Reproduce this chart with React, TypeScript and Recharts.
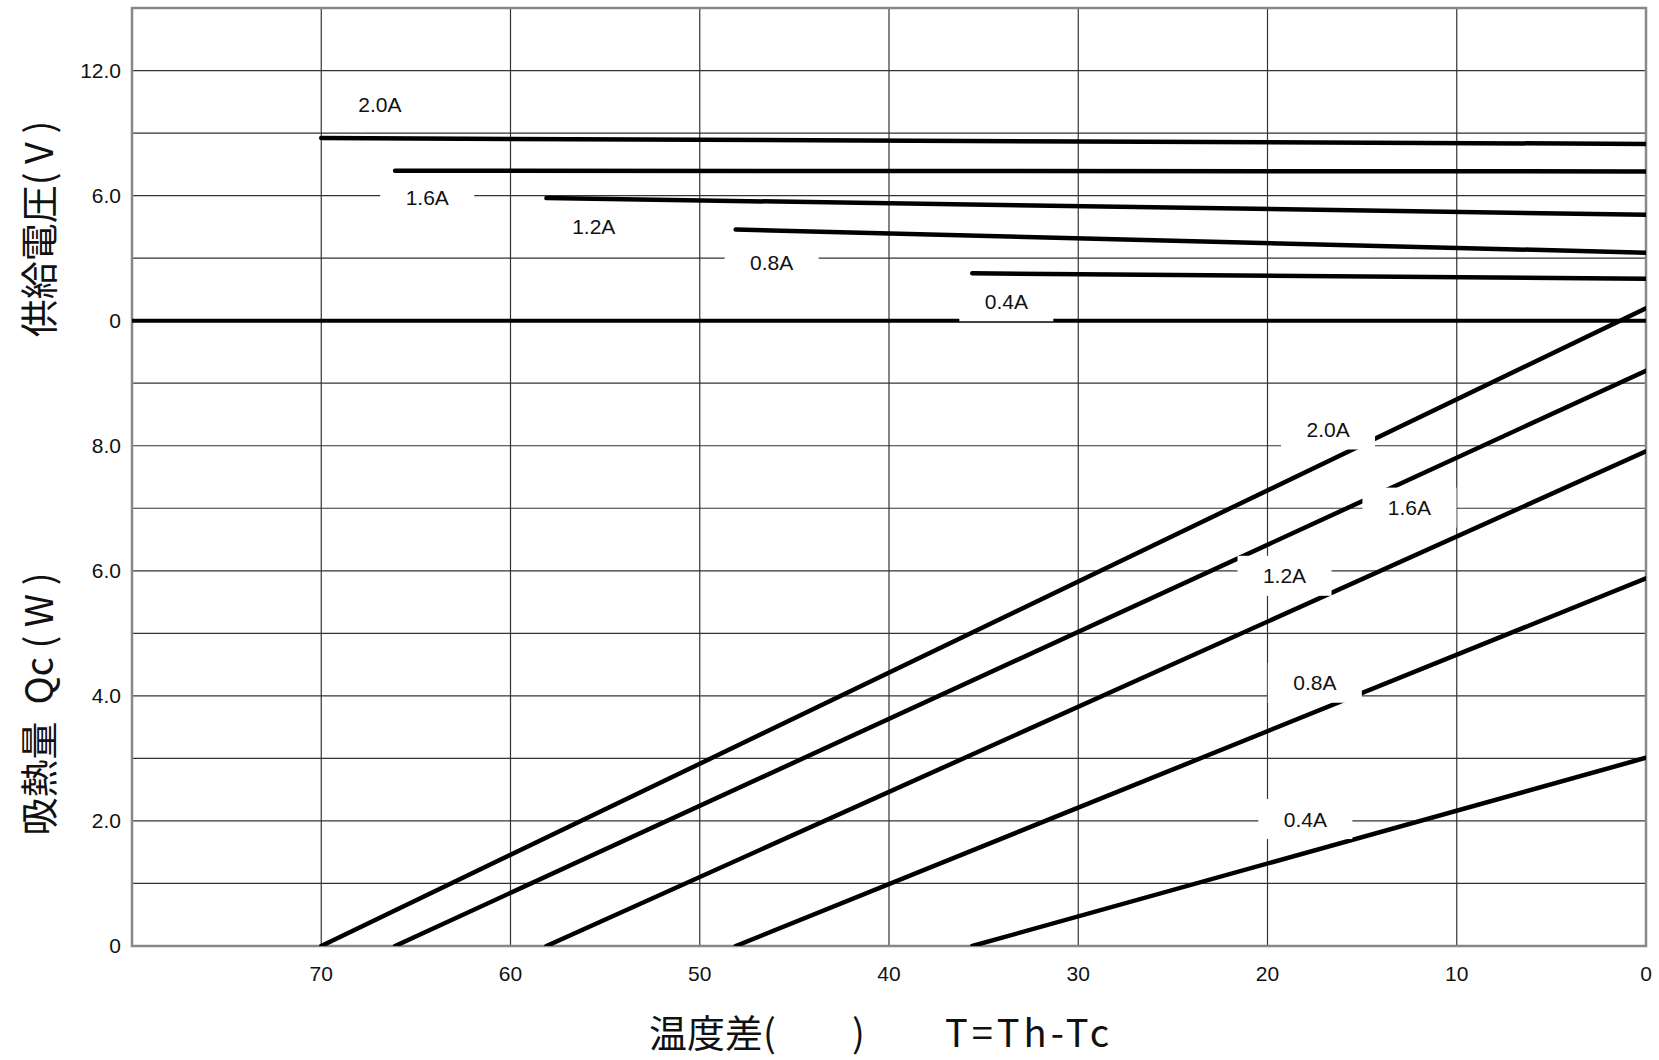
import React from 'react';
import {
  LineChart,
  Line,
  XAxis,
  YAxis,
  CartesianGrid,
  ReferenceLine,
  ReferenceDot,
  ReferenceArea,
} from 'recharts';

// currents, in the order the curves are stacked
const currents = ['2.0A', '1.6A', '1.2A', '0.8A', '0.4A'];
// ΔT where each curve begins (Qc = 0 there)
const startDT = [70, 66.1, 58.1, 48.1, 35.6];
// supply voltage (V) at the start and at ΔT = 0
const voltStart = [8.76, 7.19, 5.88, 4.37, 2.27];
const voltEnd = [8.48, 7.16, 5.08, 3.26, 2.01];
// heat absorbed Qc (W) at ΔT = 0
const heatEnd = [10.2, 9.2, 7.91, 5.88, 3.01];

// where the current labels sit: [ΔT, value]
const voltLabelAt = [
  [66.9, 10.39],
  [64.4, 5.93],
  [55.6, 4.53],
  [46.2, 2.8],
  [33.8, 0.93],
];
const heatLabelAt = [
  [16.8, 8.26],
  [12.5, 7.01],
  [19.1, 5.92],
  [17.5, 4.21],
  [18.0, 2.03],
];

const xTicks = [80, 70, 60, 50, 40, 30, 20, 10, 0];
const xTickLabels = ['', '70', '60', '50', '40', '30', '20', '10', '0'];
// shared vertical units: lower panel W*3 (0-30), upper panel 30+V (30-45)
const yTicks = [0, 3, 6, 9, 12, 15, 18, 21, 24, 27, 30, 33, 36, 39, 42, 45];
const yTickLabels = ['0', '', '2.0', '', '4.0', '', '6.0', '', '8.0', '', '0', '', '6.0', '', '12.0', ''];

const V_OFFSET = 30;
const W_SCALE = 3;

const voltSeries = currents.map((c, i) => ({
  name: c + ' V',
  data: [
    { dt: startDT[i], y: V_OFFSET + voltStart[i] },
    { dt: 0, y: V_OFFSET + voltEnd[i] },
  ],
}));
const heatSeries = currents.map((c, i) => ({
  name: c + ' Qc',
  data: [
    { dt: startDT[i], y: 0 },
    { dt: 0, y: W_SCALE * heatEnd[i] },
  ],
}));

const labelFont = '"Liberation Sans", Arial, sans-serif';
const cjkFont = '"Noto Sans CJK JP", sans-serif';

const LabelBox = (props: any) => {
  const { cx, cy, text } = props;
  if (cx == null || cy == null) return null;
  return (
    <g>
      <rect x={cx - 47} y={cy - 20} width={94} height={40} fill="#fff" />
      <text
        x={cx}
        y={cy}
        textAnchor="middle"
        dominantBaseline="central"
        fontSize={21}
        fontFamily={labelFont}
        fill="#111"
      >
        {text}
      </text>
    </g>
  );
};

const titleStyle: React.CSSProperties = {
  position: 'absolute',
  fontSize: 38,
  lineHeight: 1,
  fontFamily: cjkFont,
  color: '#111',
  whiteSpace: 'pre',
};

export default function App() {
  return (
    <div style={{ position: 'relative', width: 1659, height: 1060, background: '#fff' }}>
      <style>{`body{margin:0;}`}</style>
      <LineChart
        width={1659}
        height={1060}
        margin={{ top: 8, right: 13, bottom: 84, left: 72 }}
      >
        <CartesianGrid stroke="#333" strokeWidth={1.2} />
        <XAxis
          type="number"
          dataKey="dt"
          domain={[0, 80]}
          reversed
          ticks={xTicks}
          tickFormatter={(v: number) => xTickLabels[xTicks.indexOf(v)]}
          axisLine={false}
          tickLine={false}
          tickSize={0}
          tickMargin={20}
          height={30}
          allowDataOverflow
          tick={{ fontSize: 21, fill: '#111', fontFamily: labelFont }}
        />
        <YAxis
          type="number"
          dataKey="y"
          domain={[0, 45]}
          ticks={yTicks}
          tickFormatter={(v: number) => yTickLabels[yTicks.indexOf(v)]}
          width={60}
          axisLine={false}
          tickLine={false}
          tickSize={0}
          tickMargin={11}
          allowDataOverflow
          interval={0}
          tick={{ fontSize: 21, fill: '#111', fontFamily: labelFont }}
        />
        <ReferenceLine y={V_OFFSET} stroke="#000" strokeWidth={4} />
        <ReferenceArea
          x1={80}
          x2={0}
          y1={0}
          y2={45}
          fill="none"
          fillOpacity={0}
          stroke="#888"
          strokeWidth={2.5}
        />
        {voltSeries.map((s) => (
          <Line
            key={s.name}
            name={s.name}
            data={s.data}
            dataKey="y"
            type="linear"
            stroke="#000"
            strokeWidth={4.5}
            strokeLinecap="round"
            dot={false}
            activeDot={false}
            isAnimationActive={false}
          />
        ))}
        {heatSeries.map((s) => (
          <Line
            key={s.name}
            name={s.name}
            data={s.data}
            dataKey="y"
            type="linear"
            stroke="#000"
            strokeWidth={4.5}
            strokeLinecap="round"
            dot={false}
            activeDot={false}
            isAnimationActive={false}
          />
        ))}
        {voltLabelAt.map(([dt, v], i) => (
          <ReferenceDot
            key={'vl' + i}
            x={dt}
            y={V_OFFSET + v}
            r={1}
            zIndex={2000}
            shape={(p: any) => <LabelBox {...p} text={currents[i]} />}
          />
        ))}
        {heatLabelAt.map(([dt, w], i) => (
          <ReferenceDot
            key={'hl' + i}
            x={dt}
            y={W_SCALE * w}
            r={1}
            zIndex={2000}
            shape={(p: any) => <LabelBox {...p} text={currents[i]} />}
          />
        ))}
      </LineChart>

      <div
        style={{
          ...titleStyle,
          left: 37,
          top: 229,
          transform: 'translate(-50%, -50%) rotate(-90deg)',
        }}
      >
        {'供給電圧( V )'}
      </div>
      <div
        style={{
          ...titleStyle,
          left: 37,
          top: 704,
          transform: 'translate(-50%, -50%) rotate(-90deg)',
        }}
      >
        {'吸熱量  Qc ( W )'}
      </div>

      <div style={{ ...titleStyle, left: 649, top: 1012 }}>温度差(</div>
      <div style={{ ...titleStyle, left: 852, top: 1012 }}>)</div>
      <div style={{ ...titleStyle, left: 945, top: 1012, letterSpacing: 4 }}>T=Th-Tc</div>
    </div>
  );
}
